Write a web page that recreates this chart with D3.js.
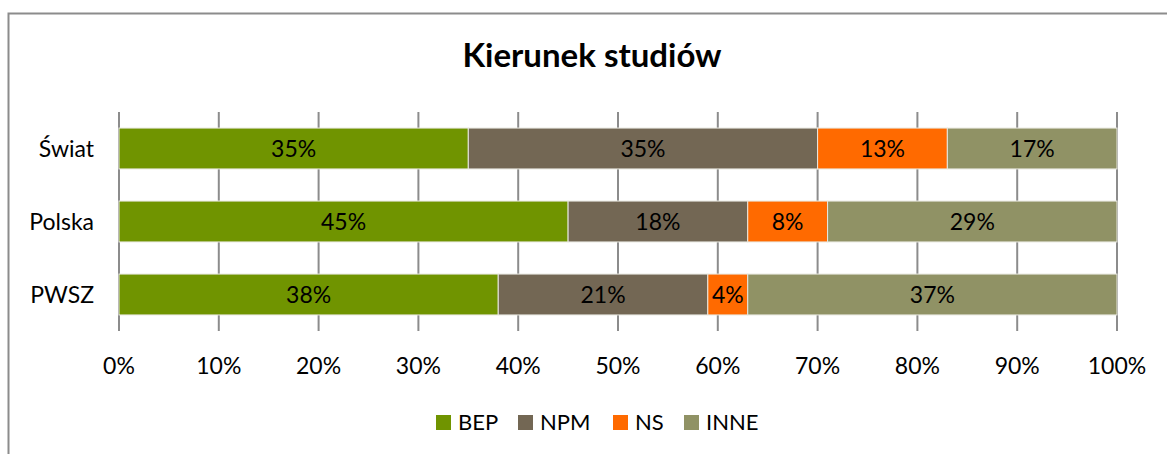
<!DOCTYPE html>
<html>
<head>
<meta charset="utf-8">
<script src="https://cdn.jsdelivr.net/npm/d3@7"></script>
<style>
  body { margin: 0; background: #fff; }
  text { font-family: Lato, "Open Sans", sans-serif; }
</style>
</head>
<body>
<script>
// chart data
let categories = ["Świat", "Polska", "PWSZ"]
let seriesNames = ["BEP", "NPM", "NS", "INNE"]
let seriesColors = ["#709400", "#736754", "#ff6a00", "#909265"]
let bep = [35, 45, 38]
let npm = [35, 18, 21]
let ns = [13, 8, 4]
let inne = [17, 29, 37]
let xTicks = [0, 10, 20, 30, 40, 50, 60, 70, 80, 90, 100]

let width = 1167
let height = 454

let svg = d3.select("body")
            .append("svg")
            .attr("width", width)
            .attr("height", height)

// chart border (right and bottom cut off in the picture)
svg.append("path")
    .attr("d", "M8.5,454 V13.5 H1167")
    .attr("fill", "none")
    .attr("stroke", "#8c8c8c")
    .attr("stroke-width", 2)

svg.append("text")
    .attr("x", 592)
    .attr("y", 67)
    .attr("text-anchor", "middle")
    .style("font-size", "33px")
    .style("font-weight", "bold")
    .text("Kierunek studiów")

let xScale = d3.scaleLinear()
                .domain([0, 100])
                .range([119, 1117])

let yScale = d3.scaleBand()
                .domain(categories)
                .range([112, 331])
                .paddingInner(0.44)
                .paddingOuter(0.22)

// gridlines
svg.append("g")
    .selectAll("line")
    .data(xTicks)
    .enter()
    .append("line")
    .attr("x1", (d) => xScale(d))
    .attr("x2", (d) => xScale(d))
    .attr("y1", 112)
    .attr("y2", 331)
    .attr("stroke", "#8c8c8c")
    .attr("stroke-width", 2)

// stack the series
let rows = categories.map((c, i) => ({cat: c, BEP: bep[i], NPM: npm[i], NS: ns[i], INNE: inne[i]}))
let stacked = d3.stack().keys(seriesNames)(rows)

let groups = svg.selectAll("g.series")
    .data(stacked)
    .enter()
    .append("g")
    .attr("class", "series")
    .attr("fill", (d, i) => seriesColors[i])

groups.selectAll("rect")
    .data((d) => d)
    .enter()
    .append("rect")
    .attr("x", (d) => xScale(d[0]))
    .attr("y", (d) => yScale(d.data.cat))
    .attr("width", (d) => xScale(d[1]) - xScale(d[0]))
    .attr("height", yScale.bandwidth())
    .attr("stroke", "#e8e8e0")
    .attr("stroke-width", 1)

groups.selectAll("text")
    .data((d) => d)
    .enter()
    .append("text")
    .attr("x", (d) => (xScale(d[0]) + xScale(d[1])) / 2)
    .attr("y", (d) => yScale(d.data.cat) + yScale.bandwidth() / 2 + 8)
    .attr("text-anchor", "middle")
    .attr("fill", "#000")
    .style("font-size", "23px")
    .text((d) => (d[1] - d[0]) + "%")

// x axis labels
svg.append("g")
    .selectAll("text")
    .data(xTicks)
    .enter()
    .append("text")
    .attr("x", (d) => xScale(d))
    .attr("y", 374)
    .attr("text-anchor", "middle")
    .style("font-size", "23px")
    .text((d) => d + "%")

// category labels
svg.append("g")
    .selectAll("text")
    .data(categories)
    .enter()
    .append("text")
    .attr("x", 94)
    .attr("y", (d) => yScale(d) + yScale.bandwidth() / 2 + 8)
    .attr("text-anchor", "end")
    .style("font-size", "23px")
    .text((d) => d)

// legend
let legendX = [436, 518, 613, 684]
let legend = svg.append("g")
    .selectAll("g")
    .data(seriesNames)
    .enter()
    .append("g")
    .attr("transform", (d, i) => "translate(" + legendX[i] + ",415)")

legend.append("rect")
    .attr("width", 15)
    .attr("height", 15)
    .attr("fill", (d, i) => seriesColors[i])

legend.append("text")
    .attr("x", 22)
    .attr("y", 15)
    .style("font-size", "22px")
    .text((d) => d)
</script>
</body>
</html>
